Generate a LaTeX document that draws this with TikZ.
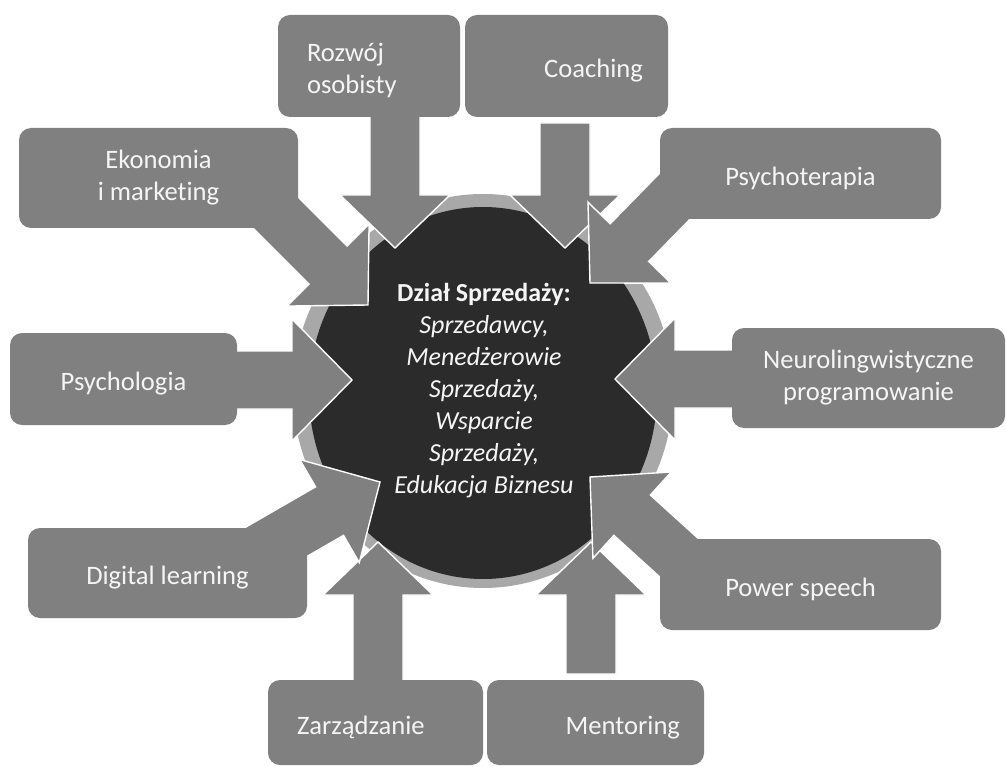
\documentclass[tikz,border=0pt]{standalone}
\usepackage{fontspec}
\setmainfont{Carlito}[Ligatures=NoCommon]
\usetikzlibrary{calc}

\definecolor{boxgray}{gray}{0.5}
\definecolor{ringgray}{gray}{0.66}
\definecolor{coredark}{gray}{0.17}
\definecolor{txtwhite}{gray}{0.96}

% fat arrow from #1 (tail) to #2 (tip)
\newcommand\fatarrow[2]{%
  \path let \p1=($(#2)-(#1)$), \n1={atan2(\y1,\x1)}, \n2={veclen(\x1,\y1)} in
    \pgfextra{\xdef\faang{\n1}\xdef\falen{\n2}};
  \pgfmathsetmacro\fac{cos(\faang)^2}
  \pgfmathsetmacro\fasw{25+4*\fac}\pgfmathsetmacro\fahw{55+6*\fac}\pgfmathsetmacro\fahl{53+7*\fac}
  \filldraw[arr, shift={(#2)}, rotate=\faang] (0,0) -- (-\fahl,\fahw) -- (-\fahl,\fasw) -- (-\falen,\fasw)
    -- (-\falen,-\fasw) -- (-\fahl,-\fasw) -- (-\fahl,-\fahw) -- cycle;
}

\begin{document}
\begin{tikzpicture}[x=1pt, y=-1pt,
    box/.style={rectangle, rounded corners=12pt, fill=boxgray, text=txtwhite, inner sep=0pt,
      font=\fontsize{26.6}{32}\selectfont, align=center, execute at begin node={\rule{0pt}{28pt}}},
    arr/.style={fill=boxgray, draw=white, line width=1.4pt, line join=miter},
    core/.style={text=txtwhite, font=\fontsize{26}{32}\selectfont, align=center}]
  \useasboundingbox[fill=white] (0,0) rectangle (1006,767);
  \fill[ringgray] (483,391) ellipse [x radius=190pt, y radius=197pt];
  \fill[coredark] (483,393) ellipse [x radius=174pt, y radius=186pt];

  \coordinate (rozwoj-t) at (395,100); \coordinate (rozwoj-h) at (395,248);
  \coordinate (coach-t) at (565,123); \coordinate (coach-h) at (565,248);
  \coordinate (psychol-t) at (200,380); \coordinate (psychol-h) at (352,380);
  \coordinate (nlp-t) at (760,379); \coordinate (nlp-h) at (615,379);
  \coordinate (zarz-t) at (378,700); \coordinate (zarz-h) at (378,542);
  \coordinate (mentor-t) at (591,674); \coordinate (mentor-h) at (591,542);
  \coordinate (ekon-t) at (240,177); \coordinate (ekon-h) at (368,305);
  \coordinate (psychot-t) at (716,154); \coordinate (psychot-h) at (590,283);
  \coordinate (digit-t) at (224,572); \coordinate (digit-h) at (380,482);
  \coordinate (power-t) at (719,594); \coordinate (power-h) at (590,477);

  \foreach \a in {rozwoj, coach, psychol, nlp, zarz, mentor, ekon, psychot, digit, power}
    {\fatarrow{\a-t}{\a-h}}

  \node[box, minimum width=182, minimum height=102, text width=124pt, align=left] (rozwoj) at (369,66) {Rozwój\\osobisty};
  \node[box, minimum width=203, minimum height=102, text width=153pt, align=right] (coach) at (566.5,66) {Coaching};
  \node[box, minimum width=279, minimum height=100] (ekon) at (158.5,178) {Ekonomia\\i marketing};
  \node[box, minimum width=281, minimum height=91] (psychot) at (800.5,173.5) {Psychoterapia};
  \node[box, minimum width=227, minimum height=92] (psychol) at (123.5,379) {Psychologia};
  \node[box, minimum width=273, minimum height=100] (nlp) at (868.5,378) {Neurolingwistyczne\\programowanie};
  \node[box, minimum width=279, minimum height=90] (digit) at (167.5,573) {Digital learning};
  \node[box, minimum width=281, minimum height=91] (power) at (800.5,584.5) {Power speech};
  \node[box, minimum width=215, minimum height=85, text width=157pt, align=left] (zarz) at (375.5,722.5) {Zarządzanie};
  \node[box, minimum width=217, minimum height=85, text width=169pt, align=right] (mentor) at (595.5,722.5) {Mentoring};

  \node[core] (dzial) at (484,391) {\textbf{Dział Sprzedaży:}\\\textit{Sprzedawcy,}\\\textit{Menedżerowie}\\
    \textit{Sprzedaży,}\\\textit{Wsparcie}\\\textit{Sprzedaży,}\\\textit{Edukacja Biznesu}};
\end{tikzpicture}
\end{document}
